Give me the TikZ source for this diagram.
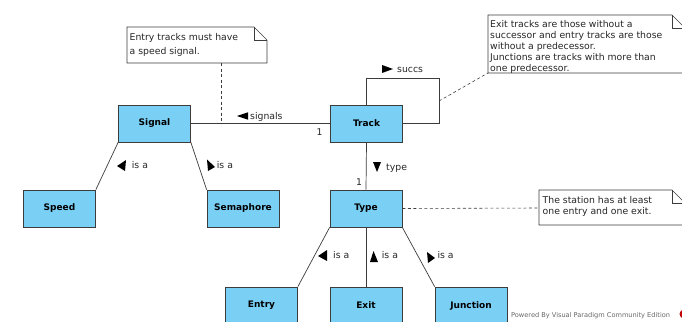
\documentclass[tikz,border=0pt]{standalone}
\usepackage{fontspec}
\setmainfont{DejaVu Sans}
\definecolor{boxblue}{RGB}{122,207,245}
\definecolor{edge}{RGB}{60,60,60}
\begin{document}
\begin{tikzpicture}[x=1pt,y=-1pt,
  cls/.style={draw=edge,fill=boxblue,line width=0.7pt,minimum width=72pt,minimum height=37pt,inner sep=0pt,font=\fontsize{9}{11}\selectfont\bfseries},
  lbl/.style={anchor=base west,inner sep=0pt,font=\fontsize{9.3}{11}\selectfont,text=black!85},
  link/.style={draw=edge,line width=0.7pt},
  notelink/.style={draw=edge,line width=0.6pt,dash pattern=on 3pt off 2.5pt},
  notebox/.style={draw=edge,fill=white,line width=0.6pt},
  tri/.style={fill=black}]
\useasboundingbox (0,0) rectangle (682,321);
\clip (0,0) rectangle (682,321);

% notes outlines
\draw[notebox] (127,27) -- (254,27) -- (267,40) -- (267,63) -- (127,63) -- cycle;
\draw[edge,line width=0.6pt] (254,27) |- (267,40);
\draw[notebox] (488,15) -- (672,15) -- (685,28) -- (685,73) -- (488,73) -- cycle;
\draw[edge,line width=0.6pt] (672,15) |- (685,28);
\draw[notebox] (539,190) -- (672,190) -- (685,203) -- (685,225) -- (539,225) -- cycle;
\draw[edge,line width=0.6pt] (672,190) |- (685,203);

% note texts
\node[lbl] (n1a) at (129.5,40.7) {Entry tracks must have};
\node[lbl] (n1b) at (129.5,54.3) {a speed signal.};
\node[lbl] (n2a) at (490,28) {Exit tracks are those without a};
\node[lbl] (n2b) at (490,38.8) {successor and entry tracks are those};
\node[lbl] (n2c) at (490,49.6) {without a predecessor.};
\node[lbl] (n2d) at (490,60.4) {Junctions are tracks with more than};
\node[lbl] (n2e) at (490,71.2) {one predecessor.};
\node[lbl] (n3a) at (542.5,203) {The station has at least};
\node[lbl] (n3b) at (542.5,214.3) {one entry and one exit.};

% classes
\node[cls] (Signal) at (154.5,123.5) {Signal};
\node[cls] (Track) at (366.5,123.5) {Track};
\node[cls] (Type) at (366,208.5) {Type};
\node[cls] (Speed) at (59.5,208.5) {Speed};
\node[cls] (Semaphore) at (243,208.5) {Semaphore};
\node[cls] (Entry) at (261.5,305.5) {Entry};
\node[cls] (Exit) at (366,305.5) {Exit};
\node[cls] (Junction) at (471,305.5) {Junction};

% associations
\draw[link] (Signal.east) -- (Track.west);
\coordinate (loop) at (439,78);
\draw[link] (Track.north) |- (loop) |- (Track.east);
\draw[link] (Track.south) -- (Type.north);

% generalizations
\draw[link] (Signal.south west) -- (Speed.north east);
\draw[link] (Signal.south east) -- (Semaphore.north west);
\draw[link] (Type.south west) -- (Entry.north east);
\draw[link] (Type.south) -- (Exit.north);
\draw[link] (Type.south east) -- (Junction.north west);

% note links
\coordinate (n1bot) at (221,63);
\coordinate (n1on) at (221,123.5);
\draw[notelink] (n1bot) -- (n1on);
\coordinate (loopside) at (439,101);
\coordinate (n2corner) at (488,73);
\draw[notelink] (loopside) -- (n2corner);
\coordinate (n3left) at (539,208);
\draw[notelink] (Type.east) -- (n3left);

% association labels
\fill[tri] (237,116) -- (248,112.3) -- (248,119.7) -- cycle;
\node[lbl] (sig) at (250,119.3) {signals};
\node[lbl] (m1) at (316.5,135) {1};
\fill[tri] (382,65) -- (393,69) -- (382,73) -- cycle;
\node[lbl] (succ) at (397,72.7) {succs};
\fill[tri] (373,162) -- (381,162) -- (377,172) -- cycle;
\node[lbl] (typ) at (386,170.7) {type};
\node[lbl] (m2) at (356,185) {1};

% is a labels
\fill[tri] (117,166) -- (126,160) -- (125,171) -- cycle;
\node[lbl] (isa1) at (131.7,168.3) {is a};
\fill[tri] (207,159.5) -- (215,167) -- (208,171) -- cycle;
\node[lbl] (isa2) at (216.7,168.3) {is a};
\fill[tri] (318,256) -- (327,250) -- (327,261) -- cycle;
\node[lbl] (isa3) at (333,258.3) {is a};
\fill[tri] (370,262) -- (373.5,251) -- (378,262) -- cycle;
\node[lbl] (isa4) at (381.7,258.3) {is a};
\fill[tri] (427,252) -- (435,258) -- (428,263) -- cycle;
\node[lbl] (isa5) at (437.3,258.3) {is a};

% watermark
\node[anchor=base west,inner sep=0pt,font=\fontsize{6.6}{7.5}\selectfont,text=black!60] (pw) at (511,317.3) {Powered By Visual Paradigm Community Edition};
\fill[red!75!black] (684,314) circle (4.5);
\end{tikzpicture}
\end{document}
